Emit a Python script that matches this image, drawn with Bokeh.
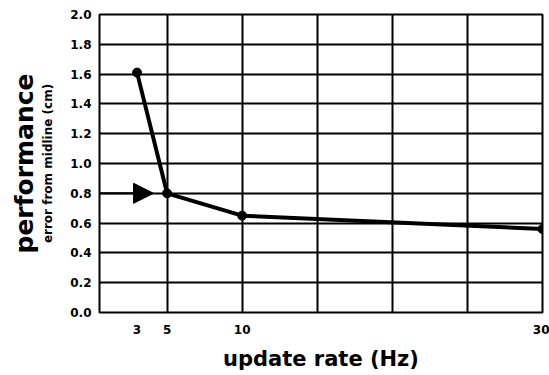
from bokeh.plotting import figure
from bokeh.models import FixedTicker, LinearAxis, Range1d, Arrow, NormalHead, NumeralTickFormatter
from bokeh.embed import file_html
from bokeh.resources import INLINE

# data
rate_hz = [3, 5, 10, 30]
error_cm = [1.61, 0.80, 0.65, 0.56]
x_tick_values = [3, 5, 10, 30]
x_grid_values = [5, 10, 15, 20, 25, 30]
y_tick_values = [0.0, 0.2, 0.4, 0.6, 0.8, 1.0, 1.2, 1.4, 1.6, 1.8, 2.0]
arrow_x = [0.5, 4.1]
arrow_y = 0.8

FONT = "DejaVu Sans"

p = figure(width=549, height=375, output_backend="svg", toolbar_location=None,
           x_range=Range1d(0.5, 30), y_range=Range1d(0, 2.0),
           min_border_top=14, min_border_right=7, min_border_left=99, min_border_bottom=63)

p.outline_line_color = "black"
p.outline_line_width = 2

# grids
p.xgrid.ticker = FixedTicker(ticks=x_grid_values)
p.ygrid.ticker = FixedTicker(ticks=y_tick_values)
for g in (p.xgrid, p.ygrid):
    g.grid_line_color = "black"
    g.grid_line_width = 2
    g.grid_line_alpha = 1.0

# x axis
xa = p.xaxis[0]
xa.ticker = FixedTicker(ticks=x_tick_values)
xa.axis_line_color = None
xa.major_tick_line_color = None
xa.minor_tick_line_color = None
xa.major_label_text_font = FONT
xa.major_label_text_font_style = "bold"
xa.major_label_text_font_size = "12px"
xa.major_label_text_color = "black"
xa.major_label_standoff = 6
xa.axis_label = "update rate (Hz)"
xa.axis_label_text_font = FONT
xa.axis_label_text_font_style = "bold"
xa.axis_label_text_font_size = "21px"
xa.axis_label_text_color = "black"
xa.axis_label_standoff = 10

# y axis (ticks + small label)
ya = p.yaxis[0]
ya.ticker = FixedTicker(ticks=y_tick_values)
ya.formatter = NumeralTickFormatter(format="0.0")
ya.axis_line_color = None
ya.major_tick_line_color = None
ya.minor_tick_line_color = None
ya.major_label_text_font = FONT
ya.major_label_text_font_style = "bold"
ya.major_label_text_font_size = "12px"
ya.major_label_text_color = "black"
ya.major_label_standoff = 2
ya.axis_label = "error from midline (cm)"
ya.axis_label_text_font = FONT
ya.axis_label_text_font_style = "bold"
ya.axis_label_text_font_size = "12px"
ya.axis_label_text_color = "black"
ya.axis_label_standoff = 12

# outer y label
ya2 = LinearAxis(ticker=FixedTicker(ticks=[]), axis_line_color=None,
                 major_tick_line_color=None, minor_tick_line_color=None,
                 major_label_text_font_size="0px",
                 axis_label="performance", axis_label_text_font=FONT,
                 axis_label_text_font_style="bold", axis_label_text_font_size="25px",
                 axis_label_text_color="black", axis_label_standoff=0)
p.add_layout(ya2, "left")

# arrow
p.add_layout(Arrow(x_start=arrow_x[0], y_start=arrow_y, x_end=arrow_x[1], y_end=arrow_y,
                   line_color="black", line_width=2,
                   end=NormalHead(size=20, fill_color="black", line_color="black")))

# data line
p.line(rate_hz, error_cm, line_color="black", line_width=4)
p.scatter(rate_hz, error_cm, size=9, fill_color="black", line_color="black")

open("out.html", "w").write(file_html(p, INLINE))
